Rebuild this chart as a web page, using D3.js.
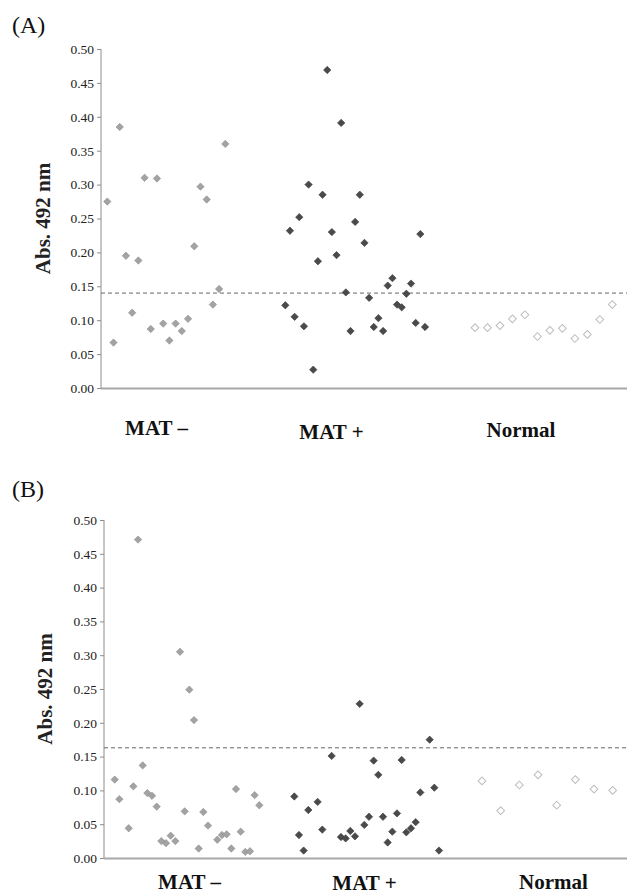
<!DOCTYPE html>
<html>
<head>
<meta charset="utf-8">
<script src="https://cdn.jsdelivr.net/npm/d3@7"></script>
<style>
  body { margin: 0; background: #fff; }
  svg { display: block; }
  svg text { font-family: "Liberation Serif", "Times New Roman", serif; }
</style>
</head>
<body>
<svg id="chart"></svg>
<script>
const width = 627;
const height = 896;
const svg = d3.select("#chart").attr("width", width).attr("height", height);

// data
const groups = ["MAT \u2013", "MAT +", "Normal"];
const yTicks = [0, 0.05, 0.10, 0.15, 0.20, 0.25, 0.30, 0.35, 0.40, 0.45, 0.50];

const aMatNeg = [0.275, 0.067, 0.385, 0.195, 0.111, 0.188, 0.310, 0.087, 0.309, 0.095,
  0.070, 0.095, 0.084, 0.102, 0.209, 0.297, 0.278, 0.123, 0.146, 0.360];
const aMatPos = [0.122, 0.232, 0.105, 0.252, 0.091, 0.300, 0.027, 0.187, 0.285, 0.469,
  0.230, 0.196, 0.391, 0.141, 0.084, 0.245, 0.285, 0.214, 0.133, 0.090,
  0.103, 0.084, 0.151, 0.162, 0.123, 0.119, 0.139, 0.154, 0.096, 0.227, 0.090];
const aNormal = [0.089, 0.089, 0.092, 0.102, 0.108, 0.076, 0.085, 0.088, 0.073, 0.079, 0.101, 0.123];
const aCutoff = 0.140;

const bMatNeg = [0.116, 0.087, null, 0.044, 0.106, 0.471, 0.137, 0.096, 0.092, 0.076,
  0.025, 0.022, 0.033, 0.025, 0.305, 0.069, 0.249, 0.204, 0.014, 0.068,
  0.048, null, 0.027, 0.034, 0.035, 0.014, 0.102, 0.039, 0.009, 0.010, 0.093, 0.078];
const bMatPos = [0.091, 0.034, 0.011, 0.071, null, 0.083, 0.042, null, 0.151, null,
  0.031, 0.029, 0.040, 0.032, 0.228, 0.049, 0.061, 0.144, 0.123, 0.061,
  0.023, 0.039, 0.066, 0.145, 0.038, 0.044, 0.053, 0.097, null, 0.175, 0.104, 0.011];
const bNormal = [0.114, 0.070, 0.108, 0.123, 0.078, 0.116, 0.102, 0.100];
const bCutoff = 0.163;

const styles = [
  { fill: "#a3a3a3", stroke: "#8f8f8f" },
  { fill: "#4a4a4a", stroke: "#3a3a3a" },
  { fill: "#fff", stroke: "#bdbdbd" }
];

const panels = [
  {
    letter: "(A)", letterY: 33, axisX: 101, top: 49, bottom: 388,
    titleX: 43, cutoff: aCutoff,
    series: [aMatNeg, aMatPos, aNormal],
    spans: [[107.3, 225.3], [285.3, 425], [475, 612.3]],
    labelX: [156.5, 331.5, 521], labelY: [435, 439, 437]
  },
  {
    letter: "(B)", letterY: 497, axisX: 104, top: 520, bottom: 858,
    titleX: 45, cutoff: bCutoff,
    series: [bMatNeg, bMatPos, bNormal],
    spans: [[114.7, 259.3], [294.3, 439], [482, 612.7]],
    labelX: [189.5, 364.5, 553.5], labelY: [889, 890, 889]
  }
];

const diamond = d3.symbol().type(d3.symbolSquare).size(27);
const hollow = d3.symbol().type(d3.symbolSquare).size(30);

panels.forEach(p => {
  const g = svg.append("g");
  const y = d3.scaleLinear().domain([0, 0.5]).range([p.bottom, p.top]);

  g.append("text").attr("x", 12).attr("y", p.letterY)
    .style("font-size", "24px").attr("fill", "#111").text(p.letter);

  // y axis
  const axis = g.append("g").attr("transform", `translate(${p.axisX},0)`)
    .call(d3.axisLeft(y).tickValues(yTicks).tickFormat(d3.format(".2f")).tickSize(4).tickPadding(3))
    .attr("font-family", null).attr("font-size", null);
  axis.select(".domain").attr("stroke", "#8c8c8c").attr("d", `M0,${p.top}V${p.bottom}`);
  axis.selectAll(".tick line").attr("stroke", "#8c8c8c");
  axis.selectAll(".tick text").attr("fill", "#222").style("font-size", "13.5px");

  g.append("text")
    .attr("transform", `translate(${p.titleX},${(p.top + p.bottom) / 2}) rotate(-90)`)
    .attr("text-anchor", "middle").attr("dy", "0.35em")
    .style("font-size", "21px").style("font-weight", "bold").attr("fill", "#222")
    .text("Abs. 492 nm");

  // x baseline
  g.append("line").attr("x1", p.axisX).attr("x2", width)
    .attr("y1", p.bottom + 0.5).attr("y2", p.bottom + 0.5)
    .attr("stroke", "#a8a8a8").attr("stroke-width", 2);

  // cut-off
  g.append("line").attr("x1", p.axisX).attr("x2", width)
    .attr("y1", y(p.cutoff)).attr("y2", y(p.cutoff))
    .attr("stroke", "#666").attr("stroke-width", 1).attr("stroke-dasharray", "4,3");

  p.series.forEach((vals, gi) => {
    const x = d3.scalePoint().domain(d3.range(vals.length)).range(p.spans[gi]);
    const pts = vals.map((v, i) => ({ i, v })).filter(d => d.v !== null);
    g.selectAll(".pt" + gi).data(pts).enter().append("path")
      .attr("class", "pt" + gi)
      .attr("d", gi === 2 ? hollow : diamond)
      .attr("transform", d => `translate(${x(d.i)},${y(d.v)}) rotate(45)`)
      .attr("fill", styles[gi].fill)
      .attr("stroke", styles[gi].stroke)
      .attr("stroke-width", gi === 2 ? 1 : 0.6);
  });

  g.selectAll(".glabel").data(groups).enter().append("text")
    .attr("class", "glabel")
    .attr("x", (d, i) => p.labelX[i]).attr("y", (d, i) => p.labelY[i])
    .attr("text-anchor", "middle")
    .style("font-size", "21px").style("font-weight", "bold").attr("fill", "#111")
    .text(d => d);
});
</script>
</body>
</html>
